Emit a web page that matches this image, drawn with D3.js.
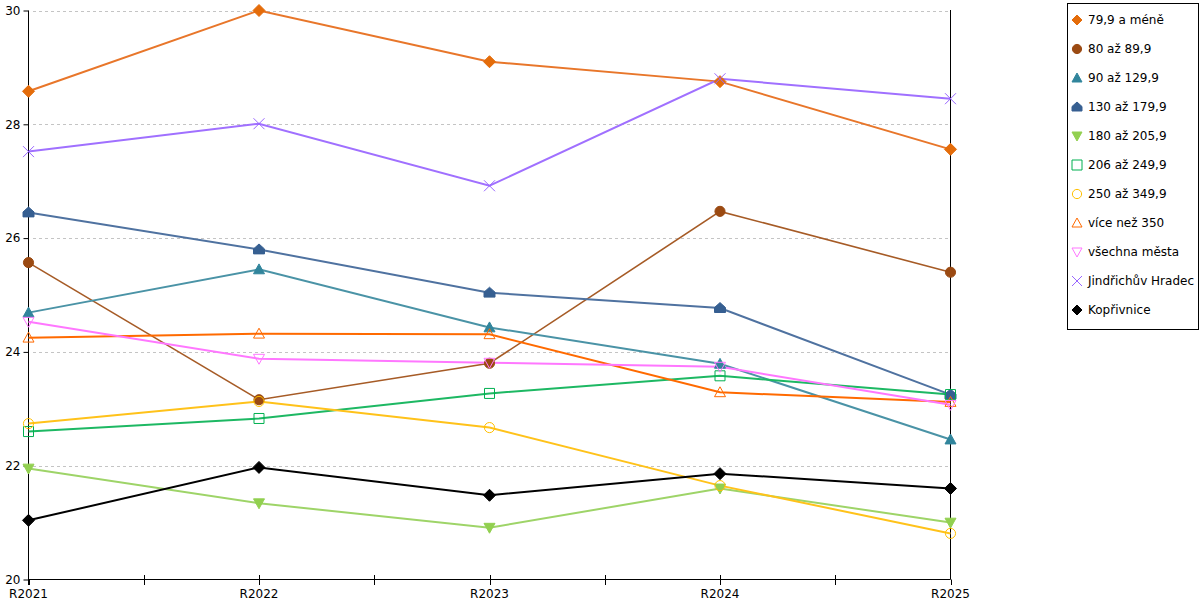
<!DOCTYPE html>
<html>
<head>
<meta charset="utf-8">
<script src="https://cdn.jsdelivr.net/npm/d3@7"></script>
<style>
  body { margin: 0; background: #fff; }
  text { font-family: "DejaVu Sans", Verdana, sans-serif; font-size: 12px; fill: #000; }
</style>
</head>
<body>
<svg width="1200" height="600"></svg>
<script>
// data
const years = ["R2021", "R2022", "R2023", "R2024", "R2025"];
const yTicks = [20, 22, 24, 26, 28, 30];

const names = ["79,9 a méně", "80 až 89,9", "90 až 129,9", "130 až 179,9", "180 až 205,9",
  "206 až 249,9", "250 až 349,9", "více než 350", "všechna města", "Jindřichův Hradec", "Kopřivnice"];

const s7999 = [28.58, 30.0, 29.10, 28.75, 27.56];
const s80 = [25.57, 23.16, 23.80, 26.47, 25.40];
const s90 = [24.69, 25.45, 24.43, 23.79, 22.46];
const s130 = [26.45, 25.80, 25.04, 24.77, 23.25];
const s180 = [21.95, 21.34, 20.91, 21.60, 21.00];
const s206 = [22.60, 22.83, 23.27, 23.58, 23.25];
const s250 = [22.74, 23.13, 22.67, 21.65, 20.81];
const s350 = [24.25, 24.32, 24.31, 23.29, 23.12];
const sAll = [24.53, 23.88, 23.81, 23.74, 23.07];
const sJH = [27.52, 28.01, 26.92, 28.80, 28.45];
const sKop = [21.04, 21.97, 21.48, 21.86, 21.60];

const values = [s7999, s80, s90, s130, s180, s206, s250, s350, sAll, sJH, sKop];

const colors = ["#e46c0a", "#9b4a12", "#31859c", "#365f91", "#92d050",
  "#00b050", "#ffc000", "#ff6a00", "#ff77ff", "#9966ff", "#000000"];
const lineColors = ["#e8762a", "#a65b26", "#4a93a6", "#4f72a0", "#9ed468",
  "#1db863", "#ffc21a", "#ff6a00", "#ff77ff", "#a070ff", "#000000"];
const shapes = ["diamond", "circle", "triangle", "house", "triangleDown",
  "square", "circle", "triangle", "triangleDown", "cross", "diamond"];
const filled = [true, true, true, true, true, false, false, false, false, false, true];

const svg = d3.select("svg");

let xScale = d3.scalePoint().domain(years).range([28.5, 950.5]);
let yScale = d3.scaleLinear().domain([20, 30]).range([579.5, 10.5]);

function markerPath(shape, r) {
  if (shape == "diamond") return `M0,${-r}L${r},0L0,${r}L${-r},0Z`;
  if (shape == "circle") return d3.symbol(d3.symbolCircle, Math.PI * r * r * 0.85)();
  if (shape == "triangle") return `M0,${-r}L${r},${r * 0.8}L${-r},${r * 0.8}Z`;
  if (shape == "triangleDown") return `M0,${r}L${r},${-r * 0.8}L${-r},${-r * 0.8}Z`;
  if (shape == "house") return `M0,${-r}L${r},${-r * 0.1}L${r},${r * 0.8}L${-r},${r * 0.8}L${-r},${-r * 0.1}Z`;
  if (shape == "square") return `M${-r},${-r}H${r}V${r}H${-r}Z`;
  if (shape == "cross") return `M${-r},${-r}L${r},${r}M${r},${-r}L${-r},${r}`;
}
function markerSize(shape) {
  if (shape == "diamond") return 6;
  if (shape == "square") return 5;
  return 5.5;
}

// gridlines
svg.append("g").selectAll("line.gridline")
  .data(yTicks.filter(d => d > 20))
  .join("line")
  .attr("class", "gridline")
  .attr("x1", 33).attr("x2", 948)
  .attr("y1", d => Math.round(yScale(d)) + 0.5)
  .attr("y2", d => Math.round(yScale(d)) + 0.5)
  .attr("stroke", "#c4c4c4")
  .attr("stroke-dasharray", "3,3");

// y axis
let yAxis = d3.axisLeft(yScale).tickValues(yTicks).tickSize(5).tickSizeOuter(0).tickPadding(3);
svg.append("g").attr("id", "yAxisG")
  .attr("transform", "translate(28.5,0)")
  .call(yAxis);

// right frame line
svg.append("line")
  .attr("x1", 950.5).attr("x2", 950.5)
  .attr("y1", 10).attr("y2", 579.5)
  .attr("stroke", "#000");

// x axis: ticks at categories and halfway between them
const step = xScale.step();
const halfTicks = d3.range(0, years.length * 2 - 1).map(i => xScale(years[0]) + i * step / 2);
const xAxisG = svg.append("g").attr("id", "xAxisG");
xAxisG.append("line")
  .attr("x1", 28.5).attr("x2", 950.5)
  .attr("y1", 579.5).attr("y2", 579.5)
  .attr("stroke", "#000");
xAxisG.selectAll("line.tick")
  .data(halfTicks)
  .join("line")
  .attr("class", "tick")
  .attr("x1", d => Math.round(d) + 0.5).attr("x2", d => Math.round(d) + 0.5)
  .attr("y1", (d, i) => i == 0 || i == halfTicks.length - 1 ? 579.5 : 575)
  .attr("y2", 585)
  .attr("stroke", "#000");
xAxisG.selectAll("text")
  .data(years)
  .join("text")
  .attr("x", d => xScale(d))
  .attr("y", 598)
  .attr("text-anchor", "middle")
  .text(d => d);

d3.selectAll("#yAxisG path.domain").attr("d", "M0,10.5V585");
d3.selectAll("#yAxisG text").style("font-size", "12px").style("font-family", "DejaVu Sans");

// lines
const line = d3.line().x((d, i) => xScale(years[i])).y(d => yScale(d));
values.forEach((vals, k) => {
  svg.append("path")
    .attr("d", line(vals))
    .attr("fill", "none")
    .attr("stroke", lineColors[k])
    .attr("stroke-width", k == 1 ? 1.6 : 2);
});

// markers
values.forEach((vals, k) => {
  svg.append("g").selectAll("path")
    .data(vals)
    .join("path")
    .attr("transform", (d, i) => `translate(${xScale(years[i])},${yScale(d)})`)
    .attr("d", markerPath(shapes[k], markerSize(shapes[k])))
    .attr("fill", filled[k] ? colors[k] : "none")
    .attr("stroke", colors[k])
    .attr("stroke-width", 1);
});

// legend
const legend = svg.append("g").attr("id", "legend");
legend.append("rect")
  .attr("x", 1067.5).attr("y", 3.5)
  .attr("width", 131).attr("height", 326)
  .attr("fill", "#fff")
  .attr("stroke", "#000");
names.forEach((name, k) => {
  const ly = 20 + k * 29;
  legend.append("path")
    .attr("transform", `translate(1077,${ly})`)
    .attr("d", markerPath(shapes[k], 5))
    .attr("fill", filled[k] ? colors[k] : "none")
    .attr("stroke", colors[k]);
  legend.append("text")
    .attr("x", 1088)
    .attr("y", ly + 4)
    .text(name);
});
</script>
</body>
</html>
